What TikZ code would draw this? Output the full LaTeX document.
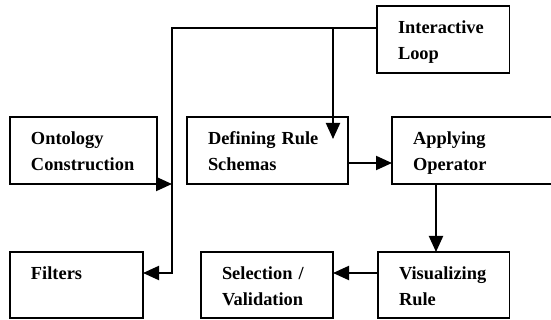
\documentclass[tikz,border=0pt]{standalone}
\usepackage{fontspec}
\setmainfont{Liberation Serif}
\usetikzlibrary{arrows.meta,calc,positioning}
\tikzset{%
	block/.style = {draw, rectangle, line width=0.8pt, anchor=north west, inner xsep=10.5pt, inner ysep=0pt, outer sep=0pt, align=left, text height=7.5pt, text depth=13.5pt, font=\fontsize{9.2}{13}\selectfont\bfseries},
	tall/.style  = {block, minimum height=33.5pt},
	low/.style   = {block, minimum height=33pt},
	arrow/.style = {line width=1pt, -{Triangle[length=8pt,width=7pt]}},
}

\begin{document}
\begin{tikzpicture}[x=0.5pt,y=-0.5pt]
	\useasboundingbox (0,0) rectangle (551,320);
	
	% top row
	\node[tall, text width=45.25pt] (inter) at (377,6) {Interactive\\Loop};
	\node[tall, text width=52.5pt] (onto) at (10,117) {Ontology\\Construction};
	\node[tall, text width=59.5pt] (defining) at (187,117) {Defining Rule\\Schemas};
	\node[tall, text width=63pt] (applying) at (392,117) {Applying\\Operator};
	
	% bottom row
	\node[low, text width=45.5pt] (filters) at (10,252) {Filters};
	\node[low, text width=45pt] (sel) at (201,252) {Selection /\\Validation};
	\node[low, text width=44.75pt] (vis) at (378,252) {Visualizing\\Rule};
	
	\coordinate (top) at (172,28);   % corner of the loop line
	\coordinate (drop) at (333,139); % tip into the schemas box
	
	\draw[arrow] ([yshift=5.75pt]inter.west) -- (top) |- ([yshift=6pt]filters.east);
	\draw[arrow] (drop |- top) -- (drop);
	\draw[arrow] (onto.south east) -- (onto.south east -| top);
	\draw[arrow] ([yshift=-6.25pt]defining.east) -- ([yshift=-6.25pt]applying.west);
	\draw[arrow] ([xshift=-20pt]applying.south) -- ([xshift=-20pt]applying.south |- vis.north);
	\draw[arrow] ([yshift=6pt]vis.west) -- ([yshift=6pt]sel.east);
	
\end{tikzpicture}
\end{document}
